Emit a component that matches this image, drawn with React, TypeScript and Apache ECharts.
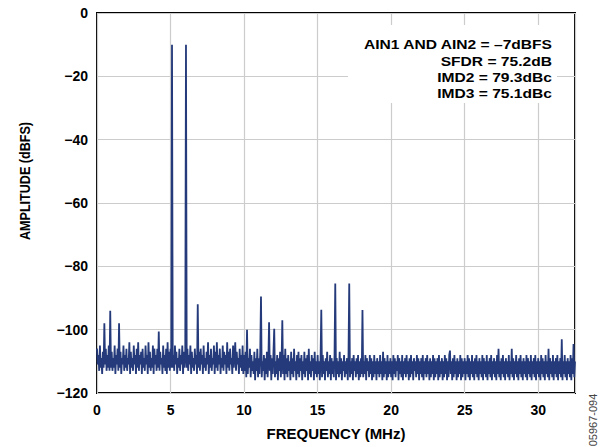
import React, { useEffect, useRef } from "react";
import * as echarts from "echarts";

// FFT bin spacing of the trace (MHz) and trace values (dBFS), one row per MHz (20 bins)
const BIN_MHZ = 0.05;
const AMPLITUDE_DBFS: number[] = [
  // 0 MHz
  -106, -111, -108, -113, -105, -112, -109, -114, -107, -112, -98, -111, -106, -113, -108, -112, -105, -113, -94, -112,
  // 1 MHz
  -107, -113, -109, -112, -105, -114, -108, -111, -106, -113, -98, -112, -107, -114, -109, -111, -105, -113, -108, -112,
  // 2 MHz
  -106, -113, -109, -111, -104, -114, -107, -112, -109, -113, -105, -111, -108, -114, -106, -112, -104, -113, -108, -111,
  // 3 MHz
  -107, -114, -106, -112, -109, -113, -105, -111, -108, -114, -104, -112, -107, -113, -109, -112, -105, -114, -106, -111,
  // 4 MHz
  -108, -113, -106, -112, -100.6, -113, -107, -111, -109, -114, -105, -112, -108, -113, -106, -114, -104, -112, -107, -113,
  // 5 MHz
  -106, -112, -10, -112, -108, -113, -105, -111, -107, -114, -109, -112, -106, -113, -108, -111, -105, -114, -107, -112,
  // 6 MHz
  -109, -10, -112, -106, -113, -108, -111, -105, -114, -107, -112, -109, -113, -106, -111, -108, -114, -92, -112, -107,
  // 7 MHz
  -113, -106, -111, -108, -114, -105, -112, -109, -113, -107, -111, -104, -114, -108, -112, -106, -113, -109, -111, -105,
  // 8 MHz
  -114, -107, -112, -104, -113, -108, -111, -106, -114, -109, -112, -105, -113, -107, -111, -108, -114, -104, -112, -107,
  // 9 MHz
  -113, -106, -111, -109, -114, -105, -112, -108, -104, -113, -107, -111, -109, -114, -106, -112, -108, -113, -105, -114,
  // 10 MHz
  -108, -113, -107, -115, -100, -114, -109, -112, -106, -115, -108, -113, -110, -114, -107, -116, -109, -113, -106, -115,
  // 11 MHz
  -109, -114, -107, -89.5, -115, -110, -113, -108, -116, -109, -114, -107, -115, -110, -97.7, -113, -108, -116, -109, -114,
  // 12 MHz
  -107, -99.7, -115, -110, -114, -108, -116, -109, -113, -107, -115, -110, -97, -114, -108, -116, -106, -114, -109, -115,
  // 13 MHz
  -108, -113, -110, -116, -107, -114, -109, -115, -106, -113, -110, -116, -108, -114, -107, -115, -109, -113, -108, -116,
  // 14 MHz
  -110, -114, -107, -115, -109, -113, -108, -116, -106, -114, -110, -115, -108, -113, -109, -116, -107, -114, -110, -115,
  // 15 MHz
  -108, -114, -110, -116, -109, -93.7, -115, -108, -114, -110, -116, -109, -113, -107, -115, -110, -114, -108, -116, -109,
  // 16 MHz
  -114, -110, -115, -108, -85.4, -116, -109, -114, -110, -115, -107, -114, -109, -116, -110, -113, -108, -115, -110, -114,
  // 17 MHz
  -109, -116, -108, -85.4, -115, -110, -114, -109, -116, -108, -113, -110, -115, -109, -114, -108, -116, -110, -115, -109,
  // 18 MHz
  -114, -93.8, -115, -110, -114, -108, -116, -109, -113, -110, -115, -108, -114, -109, -116, -110, -115, -108, -114, -110,
  // 19 MHz
  -116, -109, -114, -110, -115, -108, -114, -110, -116, -107, -115, -109, -114, -110, -116, -108, -115, -110, -114, -109,
  // 20 MHz
  -115, -110, -116, -108, -114, -109, -115, -110, -113, -108, -116, -109, -114, -110, -115, -108, -116, -110, -114, -109,
  // 21 MHz
  -115, -108, -114, -110, -116, -109, -115, -108, -114, -110, -116, -109, -113, -110, -115, -108, -114, -109, -116, -110,
  // 22 MHz
  -114, -109, -115, -108, -116, -110, -114, -109, -115, -108, -114, -110, -116, -109, -115, -110, -114, -108, -116, -109,
  // 23 MHz
  -115, -110, -114, -109, -116, -108, -115, -110, -114, -109, -116, -110, -115, -108, -114, -109, -116, -110, -115, -108,
  // 24 MHz
  -106.6, -114, -110, -116, -109, -115, -108, -114, -110, -116, -109, -115, -110, -114, -108, -116, -109, -115, -110, -114,
  // 25 MHz
  -109, -116, -110, -114, -108, -115, -109, -116, -110, -114, -108, -115, -110, -116, -109, -114, -108, -115, -110, -116,
  // 26 MHz
  -109, -114, -110, -115, -108, -116, -109, -114, -110, -115, -108, -116, -110, -114, -109, -115, -108, -116, -110, -114,
  // 27 MHz
  -109, -115, -110, -116, -108, -114, -106, -115, -110, -116, -109, -114, -108, -115, -110, -116, -109, -114, -110, -115,
  // 28 MHz
  -108, -116, -110, -114, -106, -115, -109, -116, -110, -114, -108, -115, -110, -116, -109, -114, -108, -115, -110, -116,
  // 29 MHz
  -109, -114, -110, -115, -108, -116, -109, -114, -110, -115, -108, -116, -110, -114, -109, -115, -108, -116, -110, -114,
  // 30 MHz
  -109, -115, -110, -116, -108, -114, -109, -115, -110, -116, -108, -114, -110, -115, -106, -116, -109, -114, -110, -115,
  // 31 MHz
  -108, -116, -110, -114, -109, -115, -108, -116, -110, -114, -109, -115, -103, -116, -110, -114, -108, -115, -110, -116,
  // 32 MHz (to 32.5)
  -109, -114, -110, -115, -108, -116, -109, -114, -104.5, -115, -110,
];

const X_MIN = 0;
const X_MAX = 32.5;
const X_INTERVAL = 5;
const Y_MIN = -120;
const Y_MAX = 0;
const Y_INTERVAL = 20;

const ANNOTATION_LINES = [
  "AIN1 AND AIN2 = \u20137dBFS",
  "SFDR = 75.2dB",
  "IMD2 = 79.3dBc",
  "IMD3 = 75.1dBc",
];

const X_NAME = "FREQUENCY (MHz)";
const Y_NAME = "AMPLITUDE (dBFS)";
const FIGURE_ID = "05967-094";

const FONT = "'Liberation Sans', Arial, Helvetica, sans-serif";

export default function App() {
  const ref = useRef<HTMLDivElement>(null);

  useEffect(() => {
    document.body.style.margin = "0";
    if (!ref.current) return;
    const chart = echarts.init(ref.current, undefined, { renderer: "svg" });

    const data = AMPLITUDE_DBFS.map((v, i) => [
      Math.round(i * BIN_MHZ * 100) / 100,
      v,
    ]);

    const annY = [45, 61.5, 77.5, 93.3];

    chart.setOption({
      animation: false,
      backgroundColor: "#ffffff",
      grid: {
        left: 97,
        right: 34,
        top: 13,
        bottom: 54,
        show: true,
        borderColor: "#000000",
        borderWidth: 2,
        backgroundColor: "transparent",
      },
      xAxis: {
        type: "value",
        min: X_MIN,
        max: X_MAX,
        interval: X_INTERVAL,
        name: X_NAME,
        nameLocation: "middle",
        nameGap: 33,
        nameTextStyle: {
          fontFamily: FONT,
          fontWeight: "bold",
          fontSize: 15,
          color: "#000",
        },
        axisLine: { show: false },
        axisTick: { show: false },
        axisLabel: {
          showMaxLabel: false,
          margin: 10,
          fontFamily: FONT,
          fontWeight: "bold",
          fontSize: 14,
          color: "#000",
        },
        splitLine: { show: true, lineStyle: { color: "#cccccc", width: 1.2 } },
      },
      yAxis: {
        type: "value",
        min: Y_MIN,
        max: Y_MAX,
        interval: Y_INTERVAL,
        axisLine: { show: false },
        axisTick: { show: false },
        axisLabel: {
          margin: 9,
          fontFamily: FONT,
          fontWeight: "bold",
          fontSize: 14,
          color: "#000",
          formatter: (v: number) => (v < 0 ? "\u2212" + Math.abs(v) : String(v)),
        },
        splitLine: { show: true, lineStyle: { color: "#cccccc", width: 1.2 } },
      },
      series: [
        {
          type: "line",
          data,
          showSymbol: false,
          symbol: "none",
          lineStyle: { color: "#243a7a", width: 1.8, join: "miter" },
          z: 2,
        },
      ],
      graphic: [
        {
          type: "rect",
          shape: { x: 348, y: 25, width: 209, height: 78 },
          style: { fill: "#ffffff" },
          z: 100,
        },
        ...ANNOTATION_LINES.map((t, i) => ({
          type: "text",
          x: 552,
          y: annY[i],
          scaleX: 1.3,
          z: 101,
          style: {
            text: t,
            fill: "#000",
            font: `bold 12px ${FONT}`,
            textAlign: "right",
            textVerticalAlign: "middle",
          },
        })),
        {
          type: "text",
          x: 25,
          y: 181,
          rotation: Math.PI / 2,
          scaleX: 0.9,
          z: 101,
          style: {
            text: Y_NAME,
            fill: "#000",
            font: `bold 14px ${FONT}`,
            textAlign: "center",
            textVerticalAlign: "middle",
          },
        },
        {
          type: "text",
          x: 593,
          y: 420,
          rotation: Math.PI / 2,
          z: 101,
          style: {
            text: FIGURE_ID,
            fill: "#444",
            font: `11px ${FONT}`,
            textAlign: "center",
            textVerticalAlign: "middle",
          },
        },
      ],
    });

    return () => chart.dispose();
  }, []);

  return <div ref={ref} style={{ width: 609, height: 447 }} />;
}
